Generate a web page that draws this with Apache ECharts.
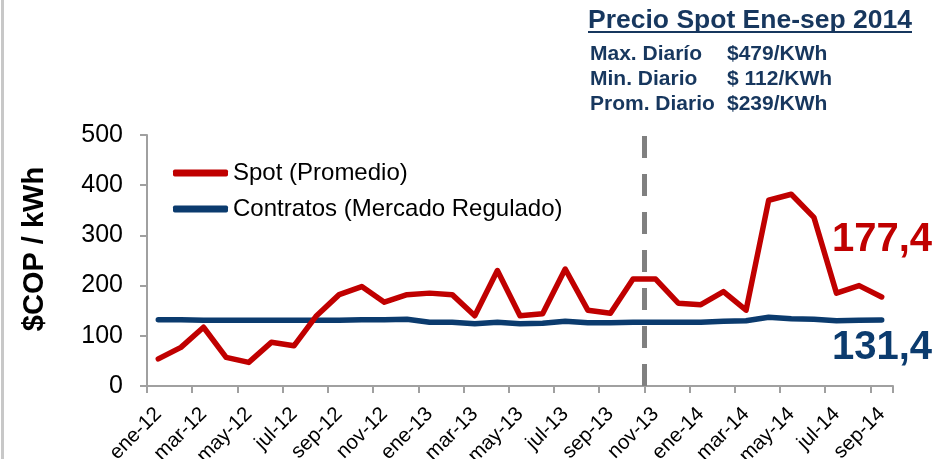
<!DOCTYPE html>
<html>
<head>
<meta charset="utf-8">
<script src="https://cdn.jsdelivr.net/npm/echarts@6/dist/echarts.min.js"></script>
<style>
  html, body { margin: 0; padding: 0; background: #fff; }
  #chart { width: 935px; height: 459px; }
</style>
</head>
<body>
<div id="chart"></div>
<script>
// meses ene-12 .. sep-14
var meses = [
  "ene-12", "feb-12", "mar-12", "abr-12", "may-12", "jun-12", "jul-12", "ago-12", "sep-12", "oct-12", "nov-12", "dic-12",
  "ene-13", "feb-13", "mar-13", "abr-13", "may-13", "jun-13", "jul-13", "ago-13", "sep-13", "oct-13", "nov-13", "dic-13",
  "ene-14", "feb-14", "mar-14", "abr-14", "may-14", "jun-14", "jul-14", "ago-14", "sep-14"
];
// Spot (Promedio), $COP/kWh
var spot = [
  54, 77, 117, 57, 47, 87, 80, 140, 182, 198, 167, 182,
  185, 182, 140, 230, 140, 144, 233, 151, 145, 213, 213, 165,
  162, 188, 151, 370, 382, 336, 185, 200, 177.4
];
// Contratos (Mercado Regulado)
var contratos = [
  132, 132, 131, 131, 131, 131, 131, 131, 131, 132, 132, 133,
  127, 127, 124, 127, 124, 125, 129, 126, 126, 127, 127, 127,
  127, 129, 130, 137, 134, 133, 130, 131, 131.4
];
var yTicks = [0, 100, 200, 300, 400, 500];
var mesCorte = "nov-13";   // linea punteada: inicio del periodo
var resumenNombres = ["Max. Diarío", "Min. Diario", "Prom. Diario"];
var resumenValores = ["$479/KWh", "$ 112/KWh", "$239/KWh"];

var ROJO = "#c00000";
var AZUL = "#0b3b6e";
var FONT = "Liberation Sans, Arial, sans-serif";

function fmt(v) {
  return v.toFixed(1).replace(".", ",");
}

var chart = echarts.init(document.getElementById("chart"));

var graficos = [
  // borde gris izquierdo
  { type: "rect", shape: { x: 1, y: 0, width: 3, height: 459 }, style: { fill: "#c8c8c8" }, silent: true },
  // titulo del eje y
  {
    type: "text", x: 35, y: 249, rotation: Math.PI / 2,
    style: { text: "$COP / kWh", font: "bold 29px " + FONT, fill: "#000", align: "center", verticalAlign: "middle" }
  },
  // recuadro precio spot
  {
    type: "text", x: 588, y: 21,
    style: { text: "Precio Spot Ene-sep 2014", font: "bold 26.5px " + FONT, fill: "#17375e", align: "left", verticalAlign: "middle" }
  },
  { type: "rect", shape: { x: 588, y: 31, width: 324, height: 2 }, style: { fill: "#17375e" }, silent: true }
];
resumenNombres.forEach(function (n, i) {
  graficos.push({
    type: "text", x: 590, y: 54 + i * 25,
    style: { text: n, font: "bold 21px " + FONT, fill: "#17375e", align: "left", verticalAlign: "middle" }
  });
  graficos.push({
    type: "text", x: 727, y: 54 + i * 25,
    style: { text: resumenValores[i], font: "bold 21px " + FONT, fill: "#17375e", align: "left", verticalAlign: "middle" }
  });
});
// valores finales
graficos.push({
  type: "text", x: 932, y: 240,
  style: { text: fmt(spot[spot.length - 1]), font: "bold 40px " + FONT, fill: ROJO, align: "right", verticalAlign: "middle" }
});
graficos.push({
  type: "text", x: 932, y: 348,
  style: { text: fmt(contratos[contratos.length - 1]), font: "bold 40px " + FONT, fill: AZUL, align: "right", verticalAlign: "middle" }
});

var option = {
  animation: false,
  backgroundColor: "#fff",
  textStyle: { fontFamily: FONT },
  grid: { left: 147, right: 42, top: 135, bottom: 73, containLabel: false, outerBoundsMode: "none" },
  legend: {
    orient: "vertical",
    left: 173,
    top: 161,
    padding: 0,
    itemGap: 12,
    itemWidth: 55,
    itemHeight: 7,
    icon: "roundRect",
    textStyle: { fontSize: 24, color: "#000", fontFamily: FONT },
    data: ["Spot (Promedio)", "Contratos (Mercado Regulado)"]
  },
  xAxis: [
    {
      type: "category",
      data: meses,
      boundaryGap: true,
      axisLine: { lineStyle: { color: "#a0a0a0", width: 2 } },
      axisTick: { show: true, interval: 1, length: 7, lineStyle: { color: "#a0a0a0", width: 2 } },
      axisLabel: { interval: 1, rotate: 45, margin: 25, fontSize: 20.5, color: "#000", fontFamily: FONT },
      splitLine: { show: false }
    },
    {
      // eje auxiliar para la linea de corte en el limite entre meses
      type: "value",
      min: 0,
      max: meses.length,
      show: false
    }
  ],
  yAxis: {
    type: "value",
    min: yTicks[0],
    max: yTicks[yTicks.length - 1],
    interval: yTicks[1] - yTicks[0],
    axisLine: { show: true, lineStyle: { color: "#a0a0a0", width: 2 } },
    axisTick: { show: true, length: 7, lineStyle: { color: "#a0a0a0", width: 2 } },
    axisLabel: { margin: 24, fontSize: 25, color: "#000", fontFamily: FONT },
    splitLine: { show: false }
  },
  series: [
    {
      name: "Spot (Promedio)",
      type: "line",
      data: spot,
      symbol: "none",
      color: ROJO,
      lineStyle: { color: ROJO, width: 5.5, cap: "round", join: "round" },
      z: 3
    },
    {
      name: "Contratos (Mercado Regulado)",
      type: "line",
      data: contratos,
      symbol: "none",
      color: AZUL,
      lineStyle: { color: AZUL, width: 5.5, cap: "round", join: "round" },
      z: 2
    },
    {
      name: "corte",
      type: "line",
      xAxisIndex: 1,
      data: [],
      markLine: {
        silent: true,
        symbol: "none",
        label: { show: false },
        lineStyle: { color: "#808080", width: 5, type: [22, 16] },
        data: [{ xAxis: meses.indexOf(mesCorte) }]
      },
      z: 1
    }
  ],
  graphic: graficos
};

chart.setOption(option);
</script>
</body>
</html>
